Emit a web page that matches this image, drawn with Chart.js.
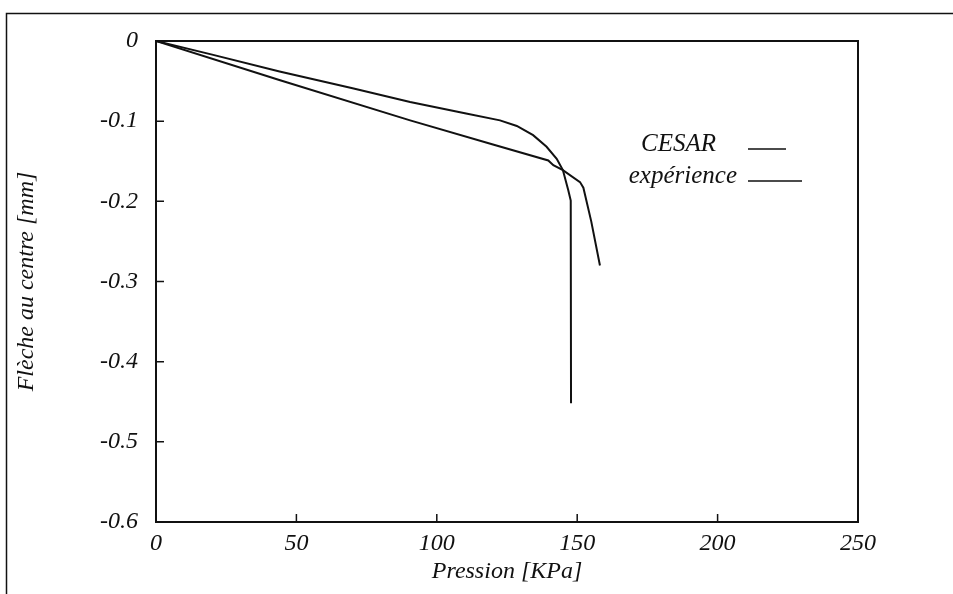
<!DOCTYPE html>
<html>
<head>
<meta charset="utf-8">
<script src="https://cdn.jsdelivr.net/npm/chart.js@4/dist/chart.umd.min.js"></script>
<style>
html,body{margin:0;padding:0;background:#fff;}
#wrap{width:953px;height:594px;position:relative;}
</style>
</head>
<body>
<div id="wrap"><canvas id="c" width="953" height="594"></canvas></div>
<script>
// Data
const cesarPressure   = [0, 20, 44, 70, 90.5, 110, 122.5, 128.5, 134.3, 139.1, 142.7, 144.9, 146.8, 147.7, 147.8];
const cesarDeflection = [0, -0.017, -0.038, -0.059, -0.076, -0.090, -0.099, -0.106, -0.1175, -0.132, -0.147, -0.161, -0.186, -0.199, -0.452];
const expPressure     = [0, 44.2, 90.5, 120, 139.7, 141.5, 144.9, 151, 152.2, 155, 158.1];
const expDeflection   = [0, -0.049, -0.099, -0.129, -0.149, -0.155, -0.161, -0.176, -0.183, -0.225, -0.28];
const xTicks = [0, 50, 100, 150, 200, 250];
const yTicks = [0, -0.1, -0.2, -0.3, -0.4, -0.5, -0.6];
const seriesLabels = ['CESAR', 'expérience'];
const xTitle = 'Pression [KPa]';
const yTitle = 'Flèche au centre [mm]';

const FONT = '"Liberation Serif", "DejaVu Serif", serif';
const INK = '#111';

function toPts(xs, ys){ return xs.map((x,i)=>({x:x, y:ys[i]})); }

const framePlugin = {
  id: 'frame',
  beforeDraw(chart){
    const ctx = chart.ctx;
    ctx.save();
    ctx.fillStyle = '#fff';
    ctx.fillRect(0,0,chart.width,chart.height);
    ctx.strokeStyle = INK;
    ctx.lineWidth = 1.5;
    ctx.beginPath();
    ctx.moveTo(6.5, 594);
    ctx.lineTo(6.5, 13.5);
    ctx.lineTo(953, 13.5);
    ctx.stroke();
    ctx.restore();
  },
  afterDatasetsDraw(chart){
    const ctx = chart.ctx;
    const a = chart.chartArea;
    const xs = chart.scales.x, ys = chart.scales.y;
    ctx.save();
    ctx.strokeStyle = INK;
    ctx.lineWidth = 2;
    ctx.strokeRect(a.left, a.top, a.right - a.left, a.bottom - a.top);
    ctx.lineWidth = 1.5;
    ctx.beginPath();
    yTicks.forEach(v=>{
      const py = ys.getPixelForValue(v);
      ctx.moveTo(a.left, py); ctx.lineTo(a.left + 8, py);
    });
    xTicks.forEach(v=>{
      const px = xs.getPixelForValue(v);
      ctx.moveTo(px, a.bottom); ctx.lineTo(px, a.bottom - 8);
    });
    ctx.stroke();
    // legend
    ctx.font = 'italic 25px ' + FONT;
    ctx.fillStyle = INK;
    ctx.textBaseline = 'middle';
    ctx.textAlign = 'right';
    ctx.fillText(seriesLabels[0], 716, 144);
    ctx.fillText(seriesLabels[1], 737, 176);
    ctx.lineWidth = 1.5;
    ctx.beginPath();
    ctx.moveTo(748, 149); ctx.lineTo(786, 149);
    ctx.moveTo(748, 181); ctx.lineTo(802, 181);
    ctx.stroke();
    ctx.restore();
  }
};

new Chart(document.getElementById('c'), {
  type: 'scatter',
  data: {
    datasets: [
      { label: seriesLabels[0], data: toPts(cesarPressure, cesarDeflection), showLine: true,
        borderColor: INK, borderWidth: 2, pointRadius: 0, tension: 0, fill: false },
      { label: seriesLabels[1], data: toPts(expPressure, expDeflection), showLine: true,
        borderColor: INK, borderWidth: 2, pointRadius: 0, tension: 0, fill: false }
    ]
  },
  options: {
    responsive: false,
    animation: false,
    events: [],
    layout: { padding: { left: 8, top: 41, right: 95, bottom: 8 } },
    plugins: { legend: { display: false }, tooltip: { enabled: false } },
    scales: {
      x: {
        type: 'linear', min: 0, max: 250,
        afterBuildTicks(s){ s.ticks = xTicks.map(v=>({value:v})); },
        afterFit(s){ s.height = 64; },
        grid: { display: false, drawTicks: false },
        border: { display: false },
        ticks: { color: INK, padding: 7, maxRotation: 0, font: { family: FONT, size: 24, style: 'italic' },
                 callback: v => String(v) },
        title: { display: true, text: xTitle, color: INK, padding: { top: 0, bottom: 0 },
                 font: { family: FONT, size: 24, style: 'italic' } }
      },
      y: {
        type: 'linear', min: -0.6, max: 0,
        afterBuildTicks(s){ s.ticks = yTicks.map(v=>({value:v})); },
        afterFit(s){ s.width = 148; },
        grid: { display: false, drawTicks: false },
        border: { display: false },
        ticks: { color: INK, padding: 18, font: { family: FONT, size: 24, style: 'italic' },
                 callback: v => (Math.abs(v) < 1e-9 ? '0' : v.toFixed(1)) },
        title: { display: true, text: yTitle, color: INK, padding: { top: 4, bottom: 0 },
                 font: { family: FONT, size: 24, style: 'italic' } }
      }
    }
  },
  plugins: [framePlugin]
});
</script>
</body>
</html>
